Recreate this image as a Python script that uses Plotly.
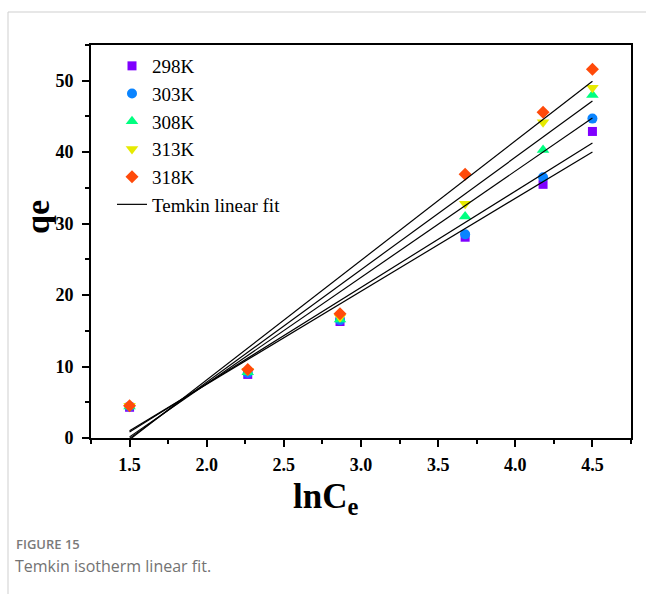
import numpy as np
import plotly.graph_objects as go

# lnCe values (shared by every isotherm) and adsorbed amounts qe
ln_ce = [1.50, 2.266, 2.864, 3.675, 4.18, 4.50]
temperatures = ["298K", "303K", "308K", "313K", "318K"]
qe_298 = [4.3, 8.9, 16.3, 28.1, 35.5, 42.9]
qe_303 = [4.4, 9.1, 16.5, 28.5, 36.5, 44.7]
qe_308 = [4.4, 9.2, 16.6, 31.0, 40.3, 48.0]
qe_313 = [4.5, 9.4, 16.9, 32.8, 44.2, 49.0]
qe_318 = [4.5, 9.6, 17.4, 36.9, 45.6, 51.6]
series = [qe_298, qe_303, qe_308, qe_313, qe_318]

colors = ["#7F00FF", "#0A84FF", "#00FF80", "#E6EA00", "#FF4A0A"]
symbols = ["square", "circle", "triangle-up", "triangle-down", "diamond"]
sizes = [9, 10, 11, 11, 10]

W, H = 646, 594
ML, MR, MT, MB = 91, 15, 45, 156
PW, PH = W - ML - MR, H - MT - MB


def px_x(px):
    return (px - ML) / PW


def px_y(py):
    return (H - MB - py) / PH


SERIF = "Liberation Serif"

fig = go.Figure()

for name, qe, c, s, sz in zip(temperatures, series, colors, symbols, sizes):
    fig.add_trace(go.Scatter(
        x=ln_ce, y=qe, mode="markers", name=name,
        marker=dict(symbol=s, size=sz, color=c, line=dict(width=0)),
    ))

# Temkin linear fits (least squares on each isotherm)
x_fit = np.array([min(ln_ce), max(ln_ce)])
for i, qe in enumerate(series):
    slope, intercept = np.polyfit(ln_ce, qe, 1)
    fig.add_trace(go.Scatter(
        x=x_fit, y=slope * x_fit + intercept, mode="lines",
        name="Temkin linear fit", legendgroup="fit", showlegend=(i == 0),
        line=dict(color="black", width=1.2),
    ))

axis_common = dict(
    showline=True, linewidth=2, linecolor="black", mirror=True,
    ticks="outside", ticklen=7, tickwidth=1.5, tickcolor="black",
    showgrid=False, zeroline=False,
    tickfont=dict(family=SERIF, size=18, color="black", weight="bold"),
)

fig.update_xaxes(
    range=[1.25, 4.75], tick0=1.5, dtick=0.5, tickformat=".1f",
    minor=dict(ticks="outside", ticklen=4, tickwidth=1.5, tickcolor="black",
               dtick=0.25, tick0=1.5),
    ticklabelstandoff=2,
    **axis_common,
)
fig.update_yaxes(
    range=[0, 55], tick0=0, dtick=10,
    minor=dict(ticks="outside", ticklen=4, tickwidth=1.5, tickcolor="black",
               dtick=5, tick0=0),
    ticklabelstandoff=5,
    **axis_common,
)

annotations = [
    dict(text="<b>qe</b>", x=px_x(37), y=px_y(217), xref="paper", yref="paper",
         textangle=-90, showarrow=False, xanchor="center", yanchor="middle",
         font=dict(family=SERIF, size=34, color="black")),
    dict(text="<b>lnC<sub>e</sub></b>", x=px_x(325), y=px_y(498),
         xref="paper", yref="paper", showarrow=False,
         xanchor="center", yanchor="middle",
         font=dict(family=SERIF, size=35, color="black")),
    dict(text="FIGURE 15", x=px_x(14), y=px_y(544), xref="paper", yref="paper",
         showarrow=False, xanchor="left", yanchor="middle",
         font=dict(family="Open Sans", size=13, color="#7a7a7a", weight=600)),
    dict(text="Temkin isotherm linear fit.", x=px_x(13), y=px_y(566),
         xref="paper", yref="paper", showarrow=False,
         xanchor="left", yanchor="middle",
         font=dict(family="Open Sans", size=16, color="#737373")),
]

shapes = [
    dict(type="line", xref="paper", yref="paper",
         x0=px_x(8), x1=px_x(W), y0=px_y(12), y1=px_y(12),
         line=dict(color="#cfcfcf", width=1)),
    dict(type="line", xref="paper", yref="paper",
         x0=px_x(8), x1=px_x(8), y0=px_y(12), y1=px_y(H),
         line=dict(color="#cfcfcf", width=1)),
]

fig.update_layout(
    width=W, height=H,
    margin=dict(l=ML, r=MR, t=MT, b=MB, pad=0),
    paper_bgcolor="white", plot_bgcolor="white",
    showlegend=True,
    legend=dict(
        x=px_x(112), y=px_y(47), xanchor="left", yanchor="top",
        bgcolor="rgba(0,0,0,0)", borderwidth=0,
        font=dict(family=SERIF, size=19, color="black"),
        tracegroupgap=0,
    ),
    annotations=annotations,
    shapes=shapes,
)

fig.write_html("out.html")
